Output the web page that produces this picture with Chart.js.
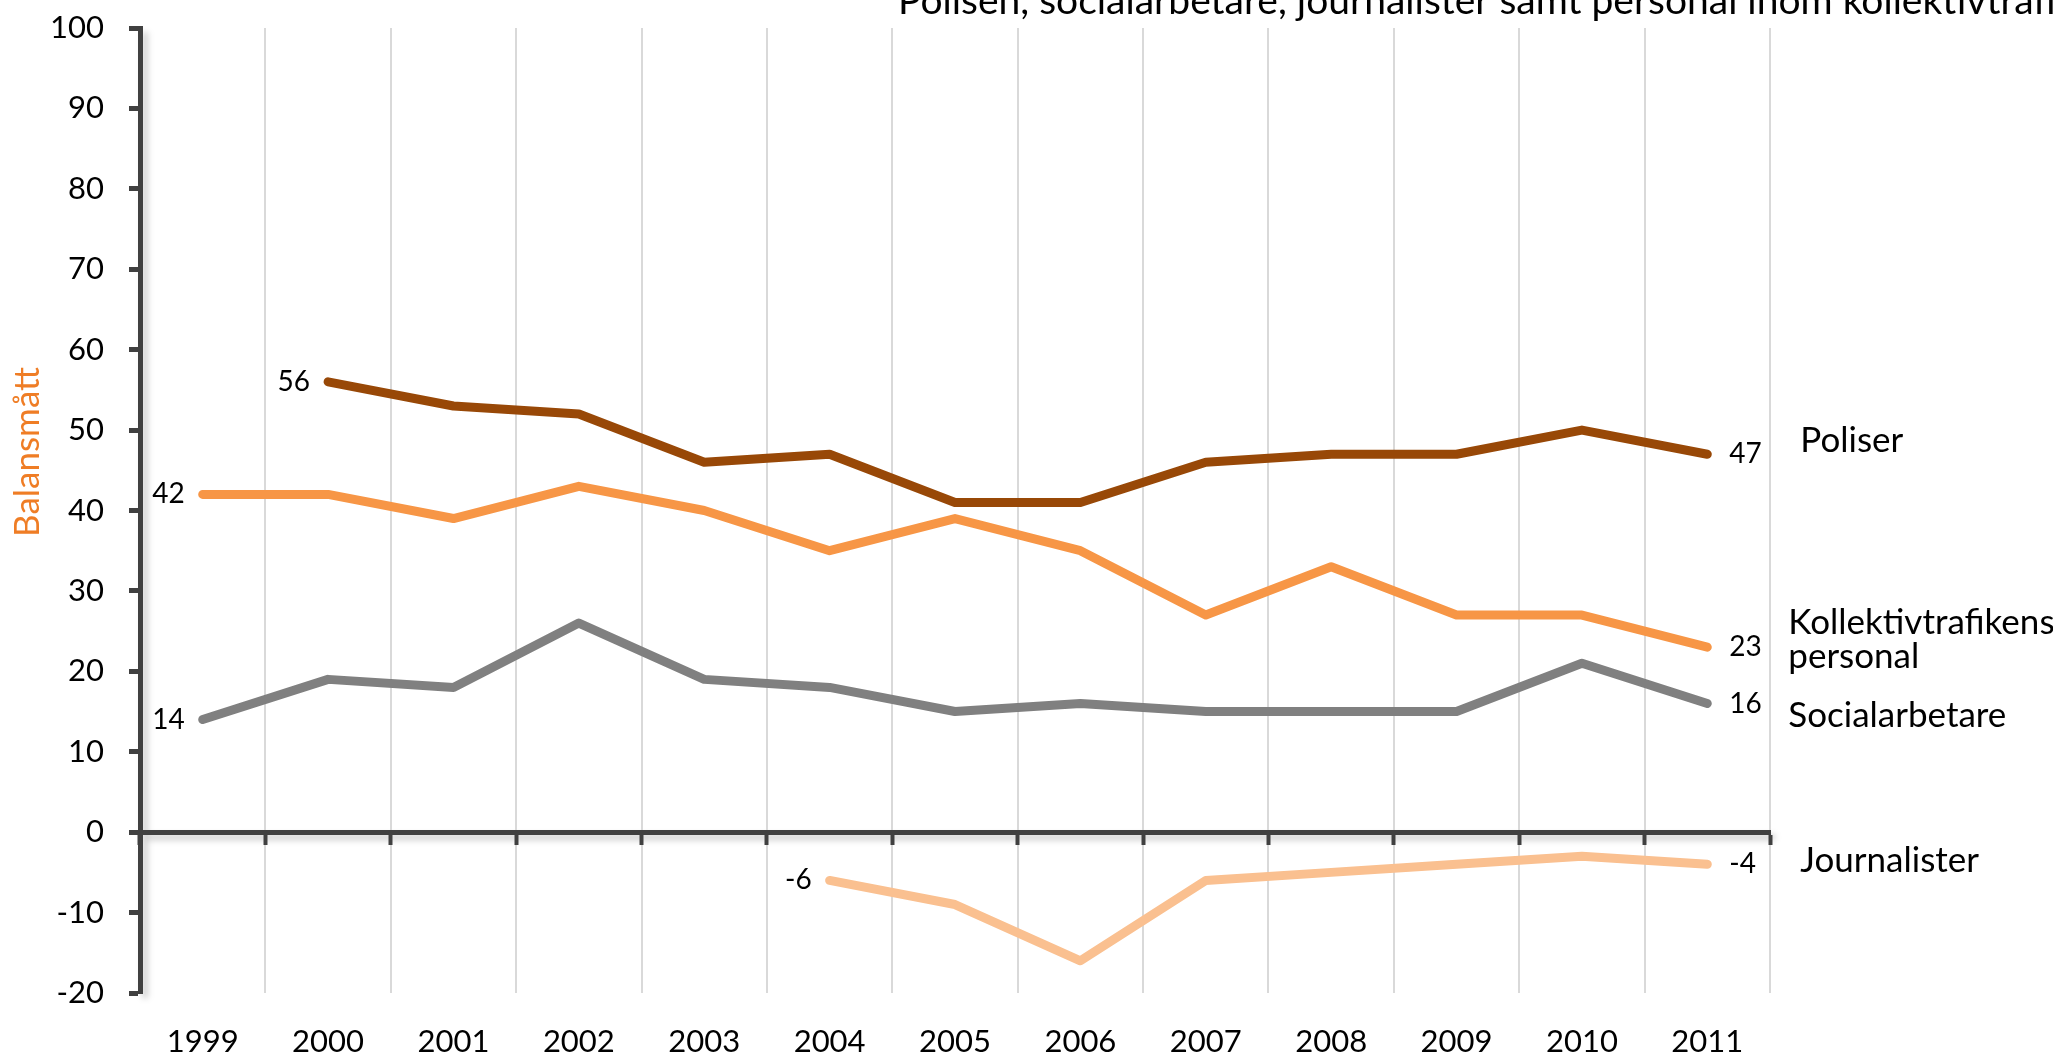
<!DOCTYPE html>
<html lang="sv">
<head>
<meta charset="utf-8">
<title>Balansmått 1999–2011</title>
<script src="https://cdn.jsdelivr.net/npm/chart.js@4.4.1/dist/chart.umd.min.js"></script>
<style>
  html, body { margin: 0; padding: 0; background: #fff; overflow: hidden; }
  #wrap { position: relative; width: 2053px; height: 1058px; }
</style>
</head>
<body>
<div id="wrap"><canvas id="chart" width="2053" height="1058"></canvas></div>
<script>
// ===== data =====
const YEARS = ['1999', '2000', '2001', '2002', '2003', '2004', '2005', '2006', '2007', '2008', '2009', '2010', '2011'];
const POLISER = [null, 56, 53, 52, 46, 47, 41, 41, 46, 47, 47, 50, 47];
const KOLLEKTIV = [42, 42, 39, 43, 40, 35, 39, 35, 27, 33, 27, 27, 23];
const SOCIAL = [14, 19, 18, 26, 19, 18, 15, 16, 15, 15, 15, 21, 16];
const JOURNALIST = [null, null, null, null, null, -6, -9, -16, -6, -5, -4, -3, -4];
const SERIES_NAMES = [['Poliser'], ['Kollektivtrafikens', 'personal'], ['Socialarbetare'], ['Journalister']];
const TITLE = 'Polisen, socialarbetare, journalister samt personal inom kollektivtrafiken';
const Y_TITLE = 'Balansmått';
const Y_MIN = -20, Y_MAX = 100, Y_STEP = 10;

const FONT = 'Lato, "Open Sans", sans-serif';
const AXIS = '#404040';

// värde vid första/sista punkt + serienamn till höger (Excel-stil)
const endLabels = {
    id: 'endLabels',
    afterDatasetsDraw(chart) {
        const ctx = chart.ctx;
        ctx.save();
        ctx.fillStyle = '#000';
        ctx.textBaseline = 'middle';
        chart.data.datasets.forEach((ds, i) => {
            const meta = chart.getDatasetMeta(i);
            const idx = ds.data.map((v, j) => (v == null ? -1 : j)).filter(j => j >= 0);
            const first = idx[0], last = idx[idx.length - 1];
            const p0 = meta.data[first], p1 = meta.data[last];
            ctx.font = `28px ${FONT}`;
            ctx.textAlign = 'right';
            ctx.fillText(String(ds.data[first]), p0.x - 18, p0.y);
            ctx.textAlign = 'left';
            ctx.fillText(String(ds.data[last]), p1.x + 22, p1.y);
            // serienamn
            ctx.font = `35px ${FONT}`;
            const n = ds.nameAt;
            SERIES_NAMES[i].forEach((line, k) => {
                ctx.fillText(line, p1.x + n.dx, p1.y + n.dy + k * 34);
            });
        });
        ctx.restore();
    }
};

// mjuk skugga under axellinjerna, rubrik och y-axelns titel
const decor = {
    id: 'decor',
    beforeDraw(chart) {
        const { ctx, chartArea: a, scales } = chart;
        const y0 = scales.y.getPixelForValue(0);
        ctx.save();
        ctx.filter = 'blur(3px)';
        ctx.strokeStyle = 'rgba(0,0,0,0.22)';
        ctx.lineWidth = 5;
        ctx.beginPath();
        ctx.moveTo(a.left + 5, a.top + 4);
        ctx.lineTo(a.left + 5, a.bottom + 5);
        ctx.moveTo(a.left + 4, y0 + 5);
        ctx.lineTo(a.right + 5, y0 + 5);
        ctx.stroke();
        ctx.restore();
    },
    afterDraw(chart) {
        const ctx = chart.ctx;
        ctx.save();
        ctx.fillStyle = '#000';
        ctx.font = `39px ${FONT}`;
        ctx.textAlign = 'left';
        ctx.textBaseline = 'alphabetic';
        ctx.fillText(TITLE, 898, 14);
        ctx.translate(28, 452);
        ctx.rotate(-Math.PI / 2);
        ctx.fillStyle = '#EF7D25';
        ctx.font = `35px ${FONT}`;
        ctx.textAlign = 'center';
        ctx.textBaseline = 'middle';
        ctx.fillText(Y_TITLE, 0, 0);
        ctx.restore();
    }
};

const lineStyle = {
    borderWidth: 9,
    pointRadius: 0,
    pointHoverRadius: 0,
    borderCapStyle: 'round',
    borderJoinStyle: 'round',
    tension: 0,
    fill: false
};

new Chart(document.getElementById('chart').getContext('2d'), {
    type: 'line',
    data: {
        labels: YEARS,
        datasets: [
            { ...lineStyle, label: 'Poliser', data: POLISER, borderColor: '#984807', nameAt: { dx: 93, dy: -13 } },
            { ...lineStyle, label: 'Kollektivtrafikens personal', data: KOLLEKTIV, borderColor: '#F79646', nameAt: { dx: 81, dy: -24 } },
            { ...lineStyle, label: 'Socialarbetare', data: SOCIAL, borderColor: '#808080', nameAt: { dx: 81, dy: 12 } },
            { ...lineStyle, label: 'Journalister', data: JOURNALIST, borderColor: '#FAC090', nameAt: { dx: 93, dy: -4 } }
        ]
    },
    options: {
        responsive: false,
        devicePixelRatio: 1,
        animation: false,
        events: [],
        layout: { padding: { left: 52, right: 283, top: 28, bottom: 0 } },
        plugins: {
            legend: { display: false },
            tooltip: { enabled: false },
            title: { display: false }
        },
        scales: {
            x: {
                type: 'category',
                position: 'bottom',
                offset: true,
                grid: { offset: true, color: '#D9D9D9', lineWidth: 2, drawTicks: false },
                border: { display: false },
                ticks: { font: { family: FONT, size: 31 }, color: '#000', padding: 30, maxRotation: 0, autoSkip: false },
                afterFit: s => { s.height = 65; }
            },
            xZero: {
                type: 'category',
                position: { y: 0 },
                offset: true,
                grid: { offset: true, drawOnChartArea: false, drawTicks: true, tickLength: 10, tickWidth: 4, tickColor: AXIS, color: AXIS },
                border: { display: true, color: AXIS, width: 5 },
                ticks: { display: false },
                afterFit: s => { s.height = 0; }
            },
            y: {
                min: Y_MIN,
                max: Y_MAX,
                ticks: { stepSize: Y_STEP, font: { family: FONT, size: 31 }, color: '#000', padding: 25 },
                grid: { drawOnChartArea: false, tickLength: 11, tickWidth: 5, tickColor: AXIS, color: AXIS },
                border: { color: AXIS, width: 5 },
                afterFit: s => { s.width = 88; s.paddingTop = 0; s.paddingBottom = 0; }
            }
        }
    },
    plugins: [decor, endLabels]
});
</script>
</body>
</html>
